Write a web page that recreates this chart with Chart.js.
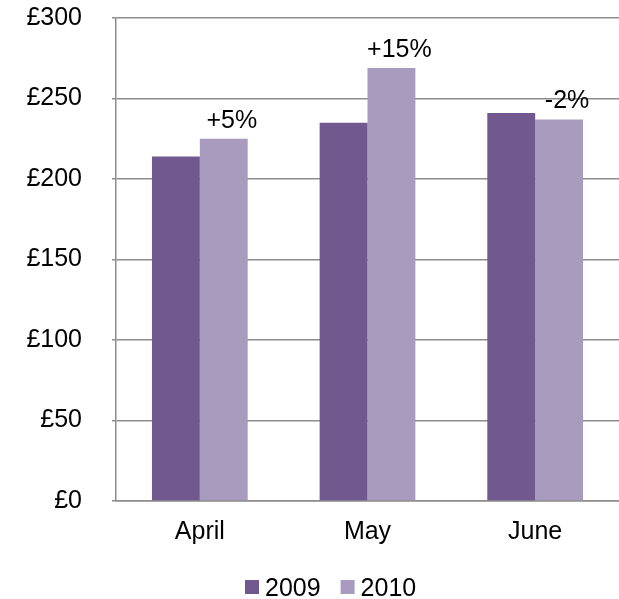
<!DOCTYPE html>
<html>
<head>
<meta charset="utf-8">
<script src="https://cdn.jsdelivr.net/npm/chart.js@4"></script>
<style>
  html, body { margin: 0; padding: 0; background: #fff; }
  #wrap { width: 619px; height: 599px; position: relative; }
</style>
</head>
<body>
<div id="wrap"><canvas id="salesChart"></canvas></div>
<script>
// data
const months = ['April', 'May', 'June'];
const sales2009 = [214, 235, 241];
const sales2010 = [225, 269, 237];
const changeLabels = ['+5%', '+15%', '-2%'];
const yTicks = [0, 50, 100, 150, 200, 250, 300];

const fontFamily = "'Liberation Sans', Arial, sans-serif";
const fontSize = 25;
const gridColor = '#8c8c8c';

// draws the % change text above each 2010 bar
const changeLabelPlugin = {
    id: 'changeLabels',
    afterDatasetsDraw(chart) {
        const ctx = chart.ctx;
        const meta = chart.getDatasetMeta(1);
        ctx.save();
        ctx.font = fontSize + 'px ' + fontFamily;
        ctx.fillStyle = '#000';
        ctx.textAlign = 'center';
        ctx.textBaseline = 'alphabetic';
        meta.data.forEach((bar, i) => {
            ctx.fillText(changeLabels[i], bar.x + 8, bar.y - 11);
        });
        ctx.restore();
    },
};

// small legend like the excel one (tight gap between box and text)
const bottomLegendPlugin = {
    id: 'bottomLegend',
    afterDraw(chart) {
        const ctx = chart.ctx;
        ctx.save();
        ctx.font = fontSize + 'px ' + fontFamily;
        ctx.textBaseline = 'alphabetic';
        ctx.textAlign = 'left';
        let x = 245;
        const boxY = 580;
        chart.data.datasets.forEach((ds) => {
            ctx.fillStyle = ds.backgroundColor;
            ctx.fillRect(x, boxY, 14, 14);
            x += 20;
            ctx.fillStyle = '#000';
            ctx.fillText(ds.label, x, boxY + 16);
            x += ctx.measureText(ds.label).width + 20;
        });
        ctx.restore();
    },
};

new Chart(document.getElementById('salesChart'), {
    type: 'bar',
    data: {
        labels: months,
        datasets: [
            { label: '2009', data: sales2009, backgroundColor: '#71588f' },
            { label: '2010', data: sales2010, backgroundColor: '#a99bbd' },
        ],
    },
    options: {
        responsive: true,
        maintainAspectRatio: false,
        animation: false,
        categoryPercentage: 0.571,
        barPercentage: 1,
        layout: { padding: { top: 18, right: 0, bottom: 35, left: 0 } },
        plugins: {
            tooltip: { enabled: false },
            legend: { display: false },
        },
        scales: {
            x: {
                grid: { display: false, drawTicks: false },
                border: { display: true, color: gridColor, width: 1.5 },
                ticks: {
                    color: '#000',
                    padding: 16,
                    font: { family: fontFamily, size: fontSize },
                },
                afterFit: (scale) => { scale.height = 63; },
            },
            y: {
                min: 0,
                max: 300,
                afterBuildTicks: (scale) => { scale.ticks = yTicks.map((v) => ({ value: v })); },
                grid: { color: gridColor, lineWidth: 1.5, tickLength: 4 },
                border: { display: true, color: gridColor, width: 1.5 },
                ticks: {
                    color: '#000',
                    padding: 30,
                    font: { family: fontFamily, size: fontSize },
                    callback: (v) => '£' + v,
                },
                afterFit: (scale) => {
                    scale.width = 116;
                    scale.paddingTop = 0;
                    scale.paddingBottom = 0;
                },
            },
        },
    },
    plugins: [changeLabelPlugin, bottomLegendPlugin],
});
</script>
</body>
</html>
